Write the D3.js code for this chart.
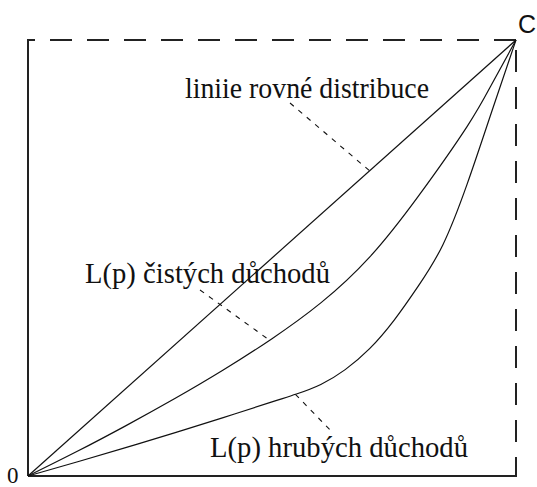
<!DOCTYPE html>
<html>
<head>
<meta charset="utf-8">
<script src="https://cdn.jsdelivr.net/npm/d3@7/dist/d3.min.js"></script>
<style>
  html, body { margin: 0; padding: 0; background: #fff; }
  svg { display: block; }
</style>
</head>
<body>
<svg id="chart" width="537" height="487"></svg>
<script>
// ---- data (cumulative population share p, cumulative income share L) ----
const equalP = [0, 1];
const equalL = [0, 1];

const netP = [0, 0.1, 0.2, 0.3, 0.4, 0.5, 0.6, 0.7, 0.8, 0.9, 0.95, 1];
const netL = [0, 0.056, 0.115, 0.177, 0.243, 0.315, 0.397, 0.502, 0.642, 0.802, 0.898, 1];

const grossP = [0, 0.1, 0.2, 0.3, 0.4, 0.5, 0.55, 0.6, 0.65, 0.7, 0.75, 0.8, 0.85, 0.9, 0.95, 1];
const grossL = [0, 0.032, 0.065, 0.099, 0.134, 0.17, 0.188, 0.21, 0.244, 0.292, 0.357, 0.436, 0.53, 0.67, 0.835, 1];

const labels = ["liniie rovné distribuce", "L(p) čistých důchodů", "L(p) hrubých důchodů"];
const cornerLabels = ["0", "C"];

// ---- drawing ----
const svg = d3.select("#chart");
const x = d3.scaleLinear().domain([0, 1]).range([28, 516]);
const y = d3.scaleLinear().domain([0, 1]).range([476, 40]);

const frame = svg.append("g").attr("stroke", "#222").attr("stroke-width", 2).attr("fill", "none");
// left solid
frame.append("line").attr("x1", x(0)).attr("y1", y(0)).attr("x2", x(0)).attr("y2", y(1));
// bottom solid
frame.append("line").attr("x1", x(0)).attr("y1", y(0)).attr("x2", x(1)).attr("y2", y(0));
// top dashed (drawn from right corner leftwards)
frame.append("line").attr("x1", x(1)).attr("y1", y(1)).attr("x2", x(0) - 1).attr("y2", y(1))
  .attr("stroke-dasharray", "22,15");
// right dashed
frame.append("line").attr("x1", x(1)).attr("y1", y(1)).attr("x2", x(1)).attr("y2", y(0) + 1)
  .attr("stroke-dasharray", "22,15").attr("stroke-dashoffset", 27);

const line = d3.line().x(d => x(d[0])).y(d => y(d[1])).curve(d3.curveNatural);
const curves = [
  d3.zip(equalP, equalL),
  d3.zip(netP, netL),
  d3.zip(grossP, grossL)
];
svg.append("g").selectAll("path").data(curves).join("path")
  .attr("d", line)
  .attr("fill", "none")
  .attr("stroke", "#111")
  .attr("stroke-width", 1.2);

// leader lines (dashed)
function interp(P, L, p) { return d3.scaleLinear().domain(P).range(L)(p); }
const leaders = [
  [[290, 103], [x(0.70), y(interp(equalP, equalL, 0.70))]],
  [[200, 290], [x(0.495), y(interp(netP, netL, 0.495))]],
  [[x(0.548), y(interp(grossP, grossL, 0.548))], [333, 433]]
];
svg.append("g").selectAll("line").data(leaders).join("line")
  .attr("x1", d => d[0][0]).attr("y1", d => d[0][1])
  .attr("x2", d => d[1][0]).attr("y2", d => d[1][1])
  .attr("stroke", "#111").attr("stroke-width", 1.1)
  .attr("stroke-dasharray", "5,6");

// labels
const labelPos = [
  { x: 185, y: 98, w: 244 },
  { x: 85, y: 283, w: 245 },
  { x: 210, y: 457, w: 258 }
];
svg.append("g").selectAll("text").data(labels).join("text")
  .attr("x", (d, i) => labelPos[i].x)
  .attr("y", (d, i) => labelPos[i].y)
  .attr("textLength", (d, i) => labelPos[i].w)
  .attr("lengthAdjust", "spacingAndGlyphs")
  .attr("font-family", "'Liberation Serif', 'Times New Roman', serif")
  .attr("font-size", 29)
  .attr("fill", "#111")
  .text(d => d);

svg.append("text").attr("x", 7).attr("y", 483)
  .attr("font-family", "'Liberation Serif', serif").attr("font-size", 23)
  .attr("fill", "#111").text(cornerLabels[0]);
svg.append("text").attr("x", 518).attr("y", 33)
  .attr("font-family", "'Liberation Sans', Arial, sans-serif").attr("font-size", 25)
  .attr("fill", "#111").text(cornerLabels[1]);
</script>
</body>
</html>
